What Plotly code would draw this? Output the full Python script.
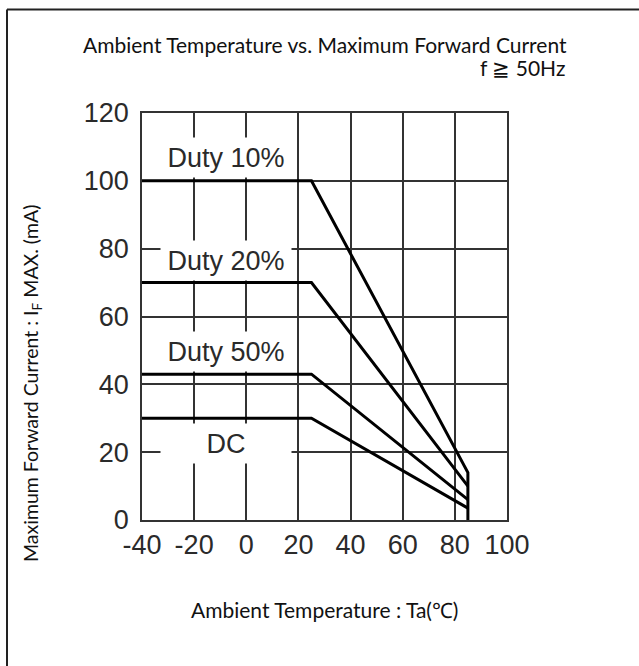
import plotly.graph_objects as go

# ---- data ----
ta_duty10 = [-40, 25, 85, 85]
if_duty10 = [100, 100, 14, 0]
ta_duty20 = [-40, 25, 85]
if_duty20 = [70, 70, 10]
ta_duty50 = [-40, 25, 85]
if_duty50 = [43, 43, 6]
ta_dc = [-40, 25, 85]
if_dc = [30, 30, 3.5]

curve_labels = ["Duty 10%", "Duty 20%", "Duty 50%", "DC"]
label_x = [-7.7, -7.7, -7.7, -7.7]
label_y = [106.8, 76.6, 49.8, 22.7]

x_ticks = [-40, -20, 0, 20, 40, 60, 80, 100]
y_ticks = [0, 20, 40, 60, 80, 100, 120]

title_text = "Ambient Temperature vs. Maximum Forward Current"
subtitle_text = "f ≧ 50Hz"
x_title = "Ambient Temperature : Ta(℃)"
y_title = "Maximum Forward Current : I<sub>F</sub> MAX. (mA)"

# ---- layout geometry ----
W, H = 639, 666
ML, MR, MT, MB = 142, 132, 113, 146
PW, PH = W - ML - MR, H - MT - MB


def px(x):
    return (x - ML) / PW


def py(y):
    return 1 - (y - MT) / PH


fig = go.Figure()
for xs, ys in [(ta_duty10, if_duty10), (ta_duty20, if_duty20),
               (ta_duty50, if_duty50), (ta_dc, if_dc)]:
    fig.add_trace(go.Scatter(x=xs, y=ys, mode="lines",
                             line=dict(color="#000000", width=3),
                             showlegend=False, hoverinfo="skip"))

tick_font = dict(family="Liberation Sans, Arial, sans-serif", size=27, color="#2a2a2a")
grid_col = "#333333"

fig.update_xaxes(range=[-40, 100], tickvals=x_ticks, ticktext=[str(v) for v in x_ticks],
                 showgrid=True, gridcolor=grid_col, gridwidth=1.5,
                 showline=True, linecolor=grid_col, linewidth=1.5, mirror=True,
                 zeroline=False, ticks="", tickfont=tick_font, ticklabelstandoff=0)
fig.update_yaxes(range=[0, 120], tickvals=y_ticks, ticktext=[str(v) for v in y_ticks],
                 showgrid=True, gridcolor=grid_col, gridwidth=1.5,
                 showline=True, linecolor=grid_col, linewidth=1.5, mirror=True,
                 zeroline=False, ticks="", tickfont=tick_font, ticklabelstandoff=6)

annotations = []
for t, x, y in zip(curve_labels, label_x, label_y):
    annotations.append(dict(x=x, y=y, xref="x", yref="y", text=t, showarrow=False,
                            font=tick_font, bgcolor="#ffffff", width=128, height=37,
                            xanchor="center", yanchor="middle"))

txt_font = dict(family="Lato, Noto Sans, sans-serif", size=21, color="#111111")
annotations.append(dict(x=px(325), y=py(44), xref="paper", yref="paper", text=title_text,
                        showarrow=False, font=txt_font, xanchor="center", yanchor="middle"))
annotations.append(dict(x=px(567), y=py(67), xref="paper", yref="paper", text=subtitle_text,
                        showarrow=False, font=txt_font, xanchor="right", yanchor="middle"))
annotations.append(dict(x=px(324), y=py(609), xref="paper", yref="paper", text=x_title,
                        showarrow=False, font=txt_font, xanchor="center", yanchor="middle"))
annotations.append(dict(x=px(32), y=py(384), xref="paper", yref="paper", text=y_title,
                        showarrow=False, font=dict(txt_font, size=19.5), textangle=-90,
                        xanchor="center", yanchor="middle"))

frame = dict(color="#222222", width=2)
shapes = [
    dict(type="line", xref="paper", yref="paper", x0=px(7), x1=px(639), y0=py(9.5), y1=py(9.5),
         line=frame, layer="below"),
    dict(type="line", xref="paper", yref="paper", x0=px(7), x1=px(7), y0=py(9.5), y1=py(666),
         line=frame, layer="below"),
]

fig.update_layout(width=W, height=H, margin=dict(l=ML, r=MR, t=MT, b=MB, pad=0),
                  paper_bgcolor="#ffffff", plot_bgcolor="#ffffff",
                  annotations=annotations, shapes=shapes, showlegend=False)

fig.write_html("out.html", config={"displayModeBar": False},
               post_script="document.body.style.margin='0';document.body.style.overflow='hidden';")
